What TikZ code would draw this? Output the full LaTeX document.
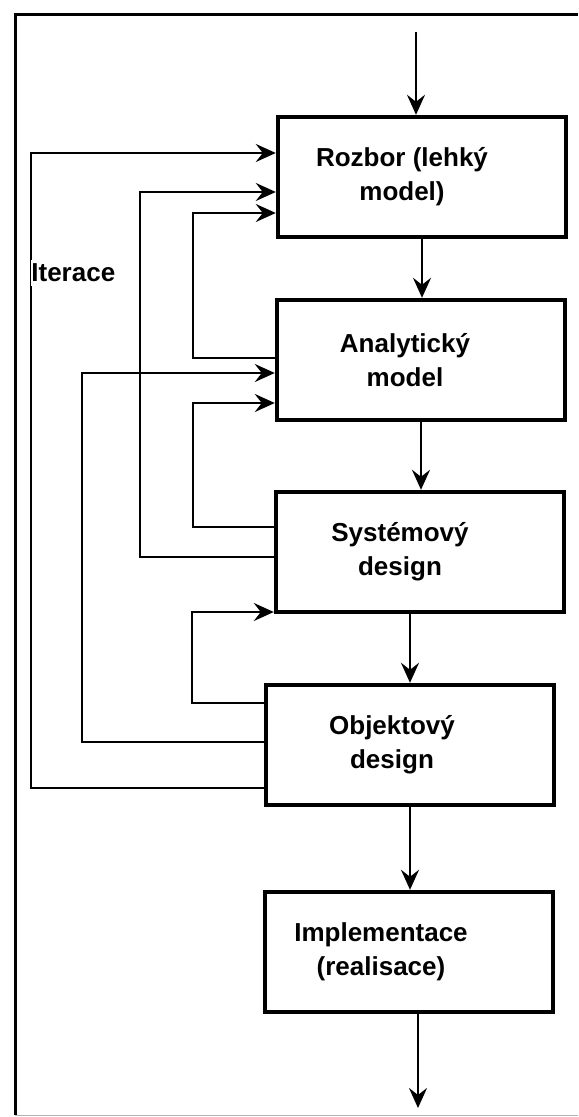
\documentclass[tikz,border=0pt]{standalone}
\usepackage{fontspec}
\setmainfont{Liberation Sans}
\usetikzlibrary{arrows.meta,positioning}

\begin{document}
\begin{tikzpicture}[
  x=0.5pt, y=-0.5pt,
  font=\bfseries\fontsize{13}{17}\selectfont,
  stage/.style={
    draw, line width=2.2pt, minimum width=144pt, minimum height=60pt,
    inner sep=0pt
  },
  caption/.style={align=center, inner sep=0pt},
  flow/.style={-{Stealth[length=10pt, width=9pt, inset=3.5pt]}, line width=1.2pt},
  back/.style={flow},
  frame/.style={line width=1.5pt},
]
\useasboundingbox (0,0) rectangle (578,1117);

% =========================== frame ========================================
\draw[frame] (578,15) -- (15,15) -- (15,1115);
\draw[black!30, thin] (15,1115) -- (578,1115);

% =========================== stages =======================================
\node[stage] (rozbor) at (422,177) {};
\node[caption] (rozbor-txt) at ([xshift=-10pt]rozbor.center)
  {Rozbor (lehký\\model)};

\node[stage] (analyt) at (421,360) {};
\node[caption] (analyt-txt) at ([xshift=-8pt]analyt.center)
  {Analytický\\model};

\node[stage] (system) at (420,552) {};
\node[caption] (system-txt) at ([xshift=-10pt]system.center)
  {Systémový\\design};

\node[stage] (objekt) at (410,745) {};
\node[caption] (objekt-txt) at ([xshift=-9pt]objekt.center)
  {Objektový\\design};

\node[stage] (impl) at (409,952) {};
\node[caption] (impl-txt) at ([xshift=-14pt]impl.center)
  {Implementace\\(realisace)};

% main flow, top to bottom
\coordinate (start) at (416,32);
\coordinate (out) at (418,1108);
\draw[flow] (start) -- (start |- rozbor.north);
\draw[flow] (rozbor.south) -- (rozbor.south |- analyt.north);
\draw[flow] (analyt.south) -- (analyt.south |- system.north);
\draw[flow] (system.south -| objekt.north) -- (objekt.north);
\draw[flow] (objekt.south) -- (objekt.south |- impl.north);
\draw[flow] (impl.south -| out) -- (out);

% =========================== iterations ===================================
\foreach \from/\fy/\lane/\to/\ty in {
  objekt/788/31/rozbor/153,
  system/557/140/rozbor/192,
  analyt/358/193/rozbor/213,
  objekt/742/82/analyt/373,
  system/527/193/analyt/403,
  objekt/703/192/system/612
}{
  \draw[back] (\from.west |- 0,\fy) -| (\lane,\ty) -- (\to.west |- 0,\ty);
}

\node[fill=white, anchor=west, inner xsep=0pt, inner ysep=2pt] (iter)
  at (31,273) {Iterace};

\end{tikzpicture}
\end{document}
